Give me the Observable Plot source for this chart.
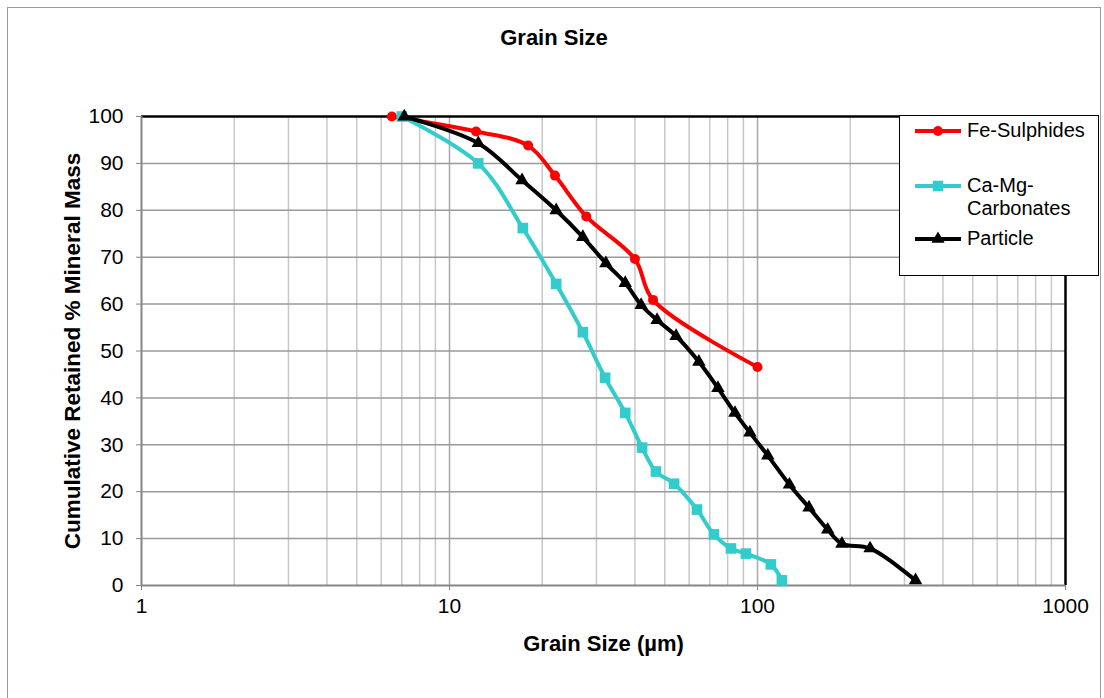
<!DOCTYPE html>
<html><head><meta charset="utf-8">
<script src="https://cdn.jsdelivr.net/npm/d3@7"></script>
<script src="https://cdn.jsdelivr.net/npm/@observablehq/plot@0.6"></script>
<style>
body{margin:0;background:#fff;font-family:"Liberation Sans",Arial,sans-serif;}
#wrap{position:relative;width:1104px;height:698px;overflow:hidden;}
#chart{position:absolute;left:0;top:0;}
#border{position:absolute;left:7px;top:7px;width:1094px;height:720px;border:1px solid #9a9a9a;box-sizing:border-box;}
#title{position:absolute;left:7px;width:1094px;top:25px;text-align:center;font-weight:bold;font-size:22px;color:#000;}
#legend{position:absolute;left:899px;top:115px;width:200px;height:161px;border:1.5px solid #000;background:#fff;box-sizing:border-box;}
.li{position:absolute;left:0;font-size:20px;color:#000;line-height:23px;}
.li svg{position:absolute;left:15px;}
.li span{position:absolute;left:67px;white-space:nowrap;}
</style>
</head><body>
<div id="wrap">
  <div id="border"></div>
  <div id="chart"></div>
  <div id="title">Grain Size</div>
  <div id="legend"></div>
</div>
<script>
// Series data (grain size in µm, cumulative retained %)
const feX = [6.5, 12.2, 18.0, 22.0, 27.8, 40.0, 45.8, 100];
const feY = [100, 96.8, 93.8, 87.4, 78.7, 69.6, 60.9, 46.6];

const caX = [7.0, 12.4, 17.3, 22.2, 27.1, 32.0, 37.2, 42.2, 46.8, 53.6, 63.6, 72.2, 82.0, 91.7, 110.5, 120];
const caY = [100, 90.0, 76.2, 64.3, 54.0, 44.3, 36.8, 29.4, 24.3, 21.7, 16.2, 10.9, 7.9, 6.8, 4.5, 1.1];

const paX = [7.13, 12.4, 17.2, 22.2, 27.1, 32.2, 37.2, 41.9, 47.2, 54.4, 64.5, 74.4, 84.5, 94.5, 108, 127, 147, 169, 188, 232, 326];
const paY = [100, 94.3, 86.4, 80.0, 74.3, 68.7, 64.5, 59.8, 56.6, 53.2, 47.7, 42.1, 36.8, 32.6, 27.7, 21.5, 16.6, 11.9, 8.9, 7.9, 1.1];

const seriesNames = ["Fe-Sulphides", "Ca-Mg-Carbonates", "Particle"];
const seriesColors = ["#ff0000", "#33cccc", "#000000"];
const seriesSymbols = ["circle", "square", "triangle"];

// Axis ticks / gridlines
const xTicks = [1, 10, 100, 1000];
const xMinorGrid = [2,3,4,5,6,7,8,9,20,30,40,50,60,70,80,90,200,300,400,500,600,700,800,900];
const xMajorGrid = [10, 100];
const yTicks = [0,10,20,30,40,50,60,70,80,90,100];
const yGrid = [10,20,30,40,50,60,70,80,90];

const toRows = (xs, ys, name) => xs.map((x, i) => ({x, y: ys[i], name}));
const fe = toRows(feX, feY, seriesNames[0]);
const ca = toRows(caX, caY, seriesNames[1]);
const pa = toRows(paX, paY, seriesNames[2]);

const font = "'Liberation Sans', Arial, sans-serif";
const chart = Plot.plot({
  width: 1104,
  height: 698,
  marginLeft: 141,
  marginRight: 39,
  marginTop: 116,
  marginBottom: 113,
  style: {fontFamily: font, fontSize: "20px", background: "transparent", color: "#000"},
  x: {type: "log", domain: [1, 1000]},
  y: {domain: [0, 100]},
  marks: [
    Plot.ruleX(xMinorGrid, {stroke: "#c8c8c8", strokeWidth: 1.5}),
    Plot.ruleX(xMajorGrid, {stroke: "#a8a8a8", strokeWidth: 1.5}),
    Plot.ruleY(yGrid, {stroke: "#9a9a9a", strokeWidth: 1.5}),
    Plot.ruleY([100], {stroke: "#000", strokeWidth: 2.5}),
    Plot.ruleX([1000], {stroke: "#000", strokeWidth: 2.5}),
    Plot.ruleX([1], {stroke: "#868686", strokeWidth: 2}),
    Plot.ruleY([0], {stroke: "#868686", strokeWidth: 2}),
    Plot.axisX({ticks: xTicks, tickFormat: d3.format("d"), tickSize: 5, tickPadding: 8, stroke: "#868686", fontSize: 21, label: null}),
    Plot.axisY({ticks: yTicks, tickSize: 5, tickPadding: 13, stroke: "#868686", fontSize: 21, label: null}),
    Plot.line(fe, {x: "x", y: "y", stroke: seriesColors[0], strokeWidth: 4, curve: "catmull-rom"}),
    Plot.line(ca, {x: "x", y: "y", stroke: seriesColors[1], strokeWidth: 4, curve: "catmull-rom"}),
    Plot.line(pa, {x: "x", y: "y", stroke: seriesColors[2], strokeWidth: 4, curve: "catmull-rom"}),
    Plot.dot(fe, {x: "x", y: "y", fill: seriesColors[0], symbol: seriesSymbols[0], r: 5}),
    Plot.dot(ca, {x: "x", y: "y", fill: seriesColors[1], symbol: seriesSymbols[1], r: 6}),
    Plot.dot(pa, {x: "x", y: "y", fill: seriesColors[2], symbol: seriesSymbols[2], r: 5}),
    Plot.text(["Grain Size (µm)"], {frameAnchor: "bottom", dy: 58, fontWeight: "bold", fontSize: 22, lineAnchor: "middle"}),
    Plot.text(["Cumulative Retained % Mineral Mass"], {frameAnchor: "left", textAnchor: "middle", dx: -69, rotate: -90, fontWeight: "bold", fontSize: 22.5, lineAnchor: "middle"})
  ]
});
document.getElementById("chart").appendChild(chart);

// Legend
const legend = document.getElementById("legend");
const entries = [
  {label: "Fe-Sulphides", top: 3, lineY: 12},
  {label: "Ca-Mg-<br>Carbonates", top: 58, lineY: 12},
  {label: "Particle", top: 111, lineY: 12}
];
const symMap = {circle: d3.symbolCircle, square: d3.symbolSquare, triangle: d3.symbolTriangle};
entries.forEach((e, i) => {
  const d = document.createElement("div");
  d.className = "li";
  d.style.top = e.top + "px";
  const sym = d3.symbol(symMap[seriesSymbols[i]], i === 1 ? 110 : 75)();
  d.innerHTML = `<svg width="50" height="24" style="top:0"><line x1="0" x2="46" y1="${e.lineY}" y2="${e.lineY}" stroke="${seriesColors[i]}" stroke-width="4"/><path d="${sym}" transform="translate(23,${e.lineY})" fill="${seriesColors[i]}"/></svg><span>${e.label}</span>`;
  legend.appendChild(d);
});
</script>
</body></html>
